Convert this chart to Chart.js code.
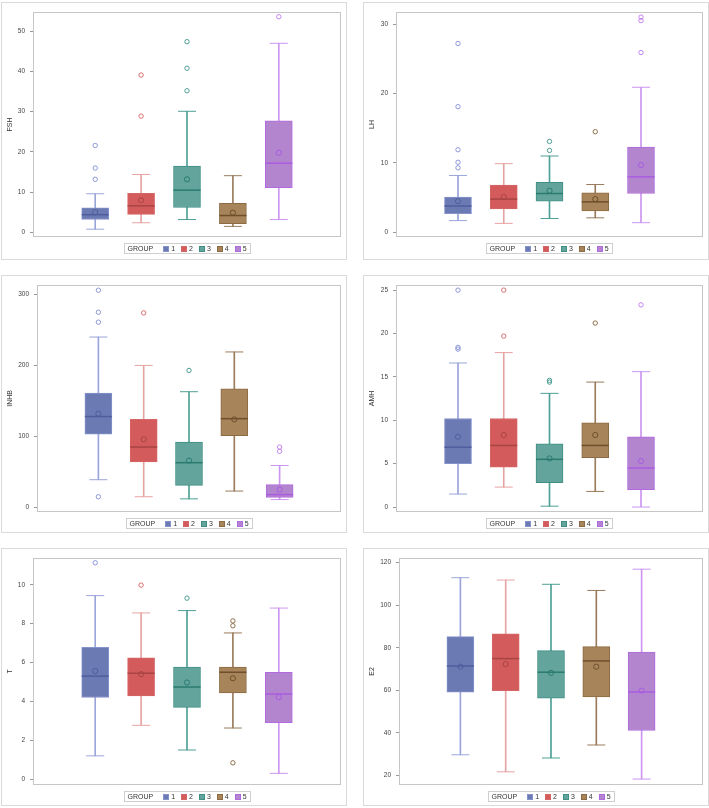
<!DOCTYPE html>
<html>
<head>
<meta charset="utf-8">
<script src="https://cdn.jsdelivr.net/npm/chart.js@4.4.1/dist/chart.umd.min.js"></script>
<style>
  html, body { margin: 0; padding: 0; background: #fff; }
  body { width: 709px; height: 808px; position: relative; overflow: hidden; }
  .panel { position: absolute; width: 344px; height: 256px; border: 1px solid #dadada; }
  .panel canvas { display: block; }
</style>
</head>
<body>
<div class="panel" style="left:1px;top:2px"><canvas id="fsh" width="344" height="256"></canvas></div>
<div class="panel" style="left:363px;top:2px"><canvas id="lh" width="344" height="256"></canvas></div>
<div class="panel" style="left:1px;top:275px"><canvas id="inhb" width="344" height="256"></canvas></div>
<div class="panel" style="left:363px;top:275px"><canvas id="amh" width="344" height="256"></canvas></div>
<div class="panel" style="left:1px;top:548px"><canvas id="t" width="344" height="256"></canvas></div>
<div class="panel" style="left:363px;top:548px"><canvas id="e2" width="344" height="256"></canvas></div>
<script>
const GROUPS = ['1', '2', '3', '4', '5'];
const LEGEND_TITLE = 'GROUP';

// FSH
const fshLow  = [0.8, 2.4, 3.2, 1.5, 3.2];
const fshQ1   = [3.2, 4.5, 6.2, 2.2, 11.1];
const fshMed  = [4.4, 6.6, 10.5, 4.2, 17.2];
const fshQ3   = [6.1, 9.7, 16.5, 7.2, 27.7];
const fshHigh = [9.6, 14.4, 30.1, 14.1, 47.0];
const fshMean = [5.0, 8.0, 13.2, 4.9, 19.8];
const fshOut  = [[13.2, 16.0, 21.6], [28.9, 39.1], [35.2, 40.8, 47.4], [], [53.6]];
const fshTicks = [0, 10, 20, 30, 40, 50];

// LH
const lhLow  = [1.7, 1.3, 2.0, 2.1, 1.4];
const lhQ1   = [2.7, 3.4, 4.5, 3.1, 5.6];
const lhMed  = [3.8, 4.8, 5.6, 4.4, 8.0];
const lhQ3   = [5.1, 6.8, 7.2, 5.7, 12.3];
const lhHigh = [8.2, 9.9, 11.0, 6.9, 20.9];
const lhMean = [4.5, 5.1, 6.0, 4.8, 9.7];
const lhOut  = [[9.3, 10.1, 11.9, 18.1, 27.2], [], [11.8, 13.1], [14.5], [25.9, 30.5, 31.0]];
const lhTicks = [0, 10, 20, 30];

// INHB
const inhbLow  = [39, 15, 12, 23, 11];
const inhbQ1   = [103, 64, 31, 101, 14];
const inhbMed  = [128, 85, 63, 125, 18];
const inhbQ3   = [161, 124, 92, 167, 32];
const inhbHigh = [240, 200, 163, 219, 59];
const inhbMean = [132, 96, 66, 124, 25];
const inhbOut  = [[15, 261, 275, 306], [274], [193], [], [79, 85]];
const inhbTicks = [0, 100, 200, 300];

// AMH
const amhLow  = [1.5, 2.3, 0.1, 1.8, 0];
const amhQ1   = [5.0, 4.6, 2.8, 5.7, 2.0];
const amhMed  = [6.9, 7.1, 5.5, 7.1, 4.5];
const amhQ3   = [10.2, 10.2, 7.3, 9.7, 8.1];
const amhHigh = [16.6, 17.8, 13.1, 14.4, 15.6];
const amhMean = [8.1, 8.3, 5.6, 8.3, 5.3];
const amhOut  = [[18.2, 18.4, 25.0], [19.7, 25.0], [14.4, 14.6], [21.2], [23.3]];
const amhTicks = [0, 5, 10, 15, 20, 25];

// T
const tLow  = [1.2, 2.77, 1.5, 2.63, 0.3];
const tQ1   = [4.2, 4.28, 3.69, 4.43, 2.9];
const tMed  = [5.3, 5.45, 4.74, 5.5, 4.38];
const tQ3   = [6.78, 6.24, 5.77, 5.77, 5.5];
const tHigh = [9.44, 8.55, 8.67, 7.52, 8.8];
const tMean = [5.56, 5.4, 4.97, 5.19, 4.22];
const tOut  = [[11.13], [9.98], [9.31], [0.84, 7.89, 8.14], []];
const tTicks = [0, 2, 4, 6, 8, 10];

// E2
const e2Low  = [29.7, 21.7, 28.2, 34.3, 18.3];
const e2Q1   = [59.1, 59.8, 56.3, 56.9, 41.1];
const e2Med  = [71.4, 74.9, 68.5, 73.8, 59.2];
const e2Q3   = [85.2, 86.5, 78.6, 80.5, 78.0];
const e2High = [112.9, 111.8, 109.8, 106.9, 116.9];
const e2Mean = [71.1, 72.3, 68.2, 71.1, 59.8];
const e2Out  = [[], [], [], [], []];
const e2Ticks = [20, 40, 60, 80, 100, 120];

const FILL    = ['#6c7ab4', '#d35b5b', '#63a59d', '#a8845a', '#b385ce'];
const EDGE    = ['#8592cc', '#d56666', '#3f8f85', '#8c6a43', '#b26ae0'];
const WHISKER = ['#9aa5da', '#e7a3a3', '#4ea095', '#9a7c5c', '#cc95f2'];
const MEDIAN  = ['#4f5d9c', '#a94444', '#2a7a70', '#6e4f2c', '#a85ce0'];
const OUTLIER = ['#8c98d8', '#d86f6f', '#4e9e94', '#8e6e4c', '#c584ef'];

const FONT = '"Liberation Sans", Arial, sans-serif';
const X_MIN = 1 - 1.355, X_MAX = 5 + 1.355;

function drawLegend(chart) {
  const ctx = chart.ctx, a = chart.chartArea;
  ctx.save();
  ctx.font = '7px ' + FONT;
  const sq = 5, gap = 3, itemGap = 6;
  const titleW = ctx.measureText(LEGEND_TITLE).width;
  let w = 3 + titleW + 10;
  GROUPS.forEach((g, i) => { w += sq + gap + ctx.measureText(g).width + (i < GROUPS.length - 1 ? itemGap : 0); });
  w += 4;
  const h = 10;
  const x0 = Math.round((a.left + a.right) / 2 - w / 2) + 0.5;
  const y0 = Math.round(a.bottom + 6) + 0.5;
  ctx.strokeStyle = '#cfcfcf';
  ctx.lineWidth = 1;
  ctx.strokeRect(x0, y0, Math.round(w), h);
  ctx.fillStyle = '#333';
  ctx.textBaseline = 'middle';
  ctx.fillText(LEGEND_TITLE, x0 + 3, y0 + h / 2 + 0.5);
  let x = x0 + 3 + titleW + 10;
  GROUPS.forEach((g, i) => {
    const sx = Math.round(x) + 0.5, sy = Math.round(y0 + (h - sq) / 2) + 0.5;
    ctx.fillStyle = FILL[i];
    ctx.fillRect(sx, sy, sq, sq);
    ctx.strokeStyle = EDGE[i];
    ctx.strokeRect(sx, sy, sq, sq);
    ctx.fillStyle = '#333';
    ctx.fillText(g, x + sq + gap, y0 + h / 2 + 0.5);
    x += sq + gap + ctx.measureText(g).width + itemGap;
  });
  ctx.restore();
}

const framePlugin = {
  id: 'frame',
  afterDraw(chart) {
    const { ctx, chartArea: a } = chart;
    ctx.save();
    ctx.strokeStyle = '#c6c6c6';
    ctx.lineWidth = 1;
    ctx.strokeRect(Math.round(a.left) + 0.5, Math.round(a.top) + 0.5,
                   Math.round(a.width) - 1, Math.round(a.height) - 1);
    ctx.restore();
    drawLegend(chart);
  }
};

function boxChart(id, title, s, yMin, yMax, ticks, yWidth, pad) {
  const pts = vals => vals.map((v, i) => ({ x: i + 1, y: v }));
  const outPts = [], outCol = [];
  s.out.forEach((list, i) => list.forEach(v => { outPts.push({ x: i + 1, y: v }); outCol.push(OUTLIER[i]); }));

  new Chart(document.getElementById(id), {
    type: 'bar',
    data: {
      datasets: [
        {
          type: 'bar',
          data: s.low.map((v, i) => ({ x: i + 1, y: [v, s.high[i]] })),
          backgroundColor: WHISKER,
          barThickness: 1,
          order: 6
        },
        {
          type: 'bar',
          data: s.q1.map((v, i) => ({ x: i + 1, y: [v, s.q3[i]] })),
          backgroundColor: FILL,
          borderColor: EDGE,
          borderWidth: 1,
          borderSkipped: false,
          barThickness: 27,
          order: 5
        },
        {
          type: 'scatter',
          data: [...pts(s.low), ...pts(s.high)],
          pointStyle: 'line',
          pointRadius: 9,
          pointBorderWidth: 1,
          pointBorderColor: [...WHISKER, ...WHISKER],
          order: 4
        },
        {
          type: 'scatter',
          data: pts(s.med),
          pointStyle: 'line',
          pointRadius: 13.5,
          pointBorderWidth: 1.5,
          pointBorderColor: MEDIAN,
          order: 3
        },
        {
          type: 'scatter',
          data: pts(s.mean),
          pointStyle: 'circle',
          pointRadius: 2.6,
          pointBorderWidth: 1,
          pointBackgroundColor: 'rgba(0,0,0,0)',
          pointBorderColor: MEDIAN,
          order: 2
        },
        {
          type: 'scatter',
          data: outPts,
          pointStyle: 'circle',
          pointRadius: 2.2,
          pointBorderWidth: 1,
          pointBackgroundColor: 'rgba(0,0,0,0)',
          pointBorderColor: outCol,
          order: 1
        }
      ]
    },
    options: {
      responsive: false,
      animation: false,
      events: [],
      layout: { autoPadding: false, padding: { left: 0, right: 5, top: pad[0], bottom: pad[1] } },
      datasets: { bar: { grouped: false } },
      plugins: { legend: { display: false }, tooltip: { enabled: false } },
      scales: {
        x: { type: 'linear', min: X_MIN, max: X_MAX, display: false, offset: false },
        y: {
          min: yMin,
          max: yMax,
          afterFit: sc => { sc.width = yWidth; },
          afterBuildTicks: sc => { sc.ticks = ticks.map(v => ({ value: v })); },
          ticks: { font: { size: 6.5, family: FONT }, color: '#444', padding: 5 },
          grid: { drawOnChartArea: false, tickLength: 3, color: '#999' },
          border: { display: false },
          title: { display: true, text: title, color: '#333',
                   font: { size: 7, family: FONT }, padding: { top: 4, bottom: 0 } }
        }
      }
    },
    plugins: [framePlugin]
  });
}

boxChart('fsh', 'FSH',
  { low: fshLow, q1: fshQ1, med: fshMed, q3: fshQ3, high: fshHigh, mean: fshMean, out: fshOut },
  -1.14, 54.8, fshTicks, 31, [4, 22]);
boxChart('lh', 'LH',
  { low: lhLow, q1: lhQ1, med: lhMed, q3: lhQ3, high: lhHigh, mean: lhMean, out: lhOut },
  -0.66, 31.75, lhTicks, 32, [4, 22]);
boxChart('inhb', 'INHB',
  { low: inhbLow, q1: inhbQ1, med: inhbMed, q3: inhbQ3, high: inhbHigh, mean: inhbMean, out: inhbOut },
  -6.5, 313.5, inhbTicks, 35, [6, 20]);
boxChart('amh', 'AMH',
  { low: amhLow, q1: amhQ1, med: amhMed, q3: amhQ3, high: amhHigh, mean: amhMean, out: amhOut },
  -0.57, 25.6, amhTicks, 32, [6, 20]);
boxChart('t', 'T',
  { low: tLow, q1: tQ1, med: tMed, q3: tQ3, high: tHigh, mean: tMean, out: tOut },
  -0.3, 11.38, tTicks, 31, [5, 20]);
boxChart('e2', 'E2',
  { low: e2Low, q1: e2Q1, med: e2Med, q3: e2Q3, high: e2High, mean: e2Mean, out: e2Out },
  15.5, 122.2, e2Ticks, 35, [5, 20]);
</script>
</body>
</html>
